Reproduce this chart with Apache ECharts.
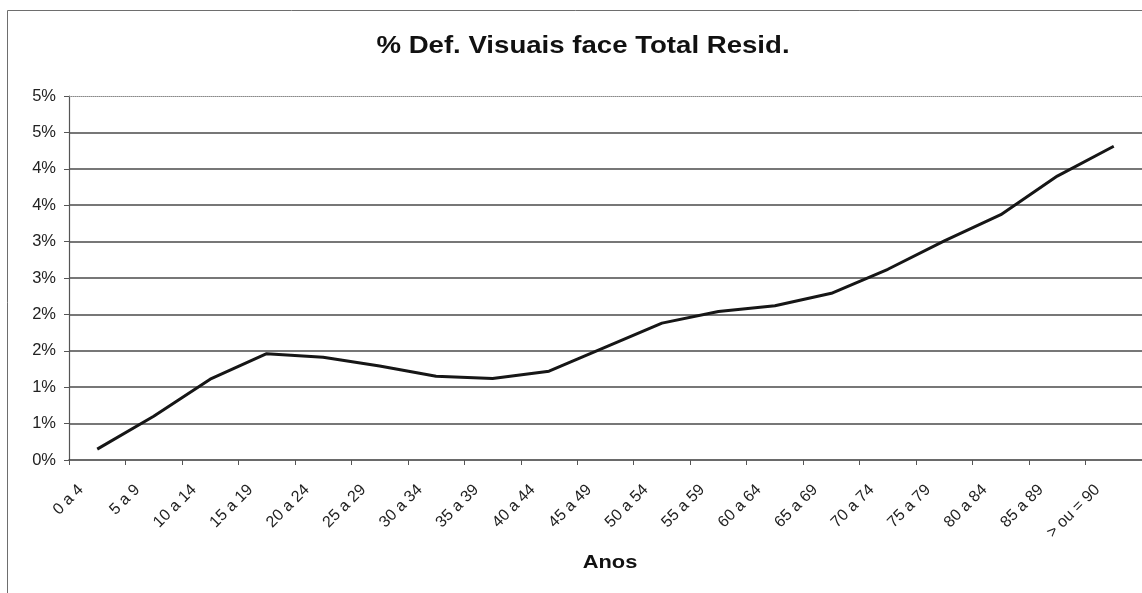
<!DOCTYPE html>
<html>
<head>
<meta charset="utf-8">
<title>% Def. Visuais face Total Resid.</title>
<script src="https://cdn.jsdelivr.net/npm/echarts@6/dist/echarts.min.js"></script>
<style>
  html, body { margin: 0; padding: 0; background: #fff; }
  #chart { width: 1142px; height: 593px; }
</style>
</head>
<body>
<div id="chart"></div>
<script>
// Age groups (years)
const ageGroups = ['0 a 4', '5 a 9', '10 a 14', '15 a 19', '20 a 24', '25 a 29', '30 a 34',
  '35 a 39', '40 a 44', '45 a 49', '50 a 54', '55 a 59', '60 a 64', '65 a 69', '70 a 74',
  '75 a 79', '80 a 84', '85 a 89', '> ou = 90'];

// Share of visually impaired among total residents, in percent
const pctVisual = [0.15, 0.60, 1.11, 1.46, 1.41, 1.29, 1.15, 1.12, 1.22, 1.55, 1.88, 2.04,
  2.12, 2.29, 2.62, 3.01, 3.37, 3.90, 4.31];

// Y tick labels as printed (whole-percent rounding of the 0.5 % steps)
const yTickLabels = ['0%', '1%', '1%', '2%', '2%', '3%', '3%', '4%', '4%', '5%', '5%'];

const titleText = '% Def. Visuais face Total Resid.';
const xAxisTitle = 'Anos';

const FONT = '"Liberation Sans", Arial, sans-serif';

// split lines: the bottom one sits under the axis and the top one is the dotted plot border
const splitColors = yTickLabels.map((_, i) =>
  (i === 0 || i === yTickLabels.length - 1) ? 'transparent' : '#4a4a4a');

const chart = echarts.init(document.getElementById('chart'), null, { renderer: 'canvas' });

chart.setOption({
  backgroundColor: '#ffffff',
  animation: false,
  grid: { left: 69, top: 96, width: 1076, height: 364, containLabel: false },
  graphic: [
    {
      type: 'rect',
      shape: { x: 7.5, y: 10.5, width: 1200, height: 700 },
      style: { fill: 'none', stroke: '#6e6e6e', lineWidth: 1 },
      silent: true, z: 0
    },
    {
      type: 'text',
      x: 583, y: 46,
      scaleX: 1.15,
      style: {
        text: titleText, fill: '#111', font: 'bold 24px ' + FONT,
        textAlign: 'center', textVerticalAlign: 'middle'
      }
    },
    {
      type: 'text',
      x: 610, y: 563,
      scaleX: 1.15,
      style: {
        text: xAxisTitle, fill: '#111', font: 'bold 19px ' + FONT,
        textAlign: 'center', textVerticalAlign: 'middle'
      }
    }
  ],
  xAxis: [
    {
      type: 'category',
      data: ageGroups,
      boundaryGap: true,
      position: 'bottom',
      axisLine: { show: true, lineStyle: { color: '#3a3a3a', width: 1.5 } },
      axisTick: { show: true, length: 5, lineStyle: { color: '#555', width: 1 } },
      axisLabel: {
        interval: 0, rotate: 45, margin: 11,
        padding: [0, 23, 0, 0],
        fontSize: 16, color: '#222', fontFamily: FONT
      },
      splitLine: { show: false }
    },
    {
      type: 'category',
      data: ageGroups,
      position: 'top',
      axisLine: { show: true, lineStyle: { color: '#8a8a8a', width: 1, type: 'dotted' } },
      axisTick: { show: false },
      axisLabel: { show: false },
      splitLine: { show: false }
    }
  ],
  yAxis: {
    type: 'value',
    min: 0, max: 5, interval: 0.5,
    axisLine: { show: true, lineStyle: { color: '#555', width: 1.2 } },
    axisTick: { show: true, length: 5, lineStyle: { color: '#555' } },
    axisLabel: {
      margin: 13, fontSize: 16.5, color: '#222', fontFamily: FONT,
      formatter: (v) => yTickLabels[Math.round(v / 0.5)]
    },
    splitLine: { show: true, lineStyle: { color: splitColors, width: 1.5 } }
  },
  series: [
    {
      type: 'line',
      xAxisIndex: 0,
      data: pctVisual,
      symbol: 'none',
      smooth: false,
      lineStyle: { color: '#161616', width: 3 },
      z: 5
    }
  ]
});
</script>
</body>
</html>
